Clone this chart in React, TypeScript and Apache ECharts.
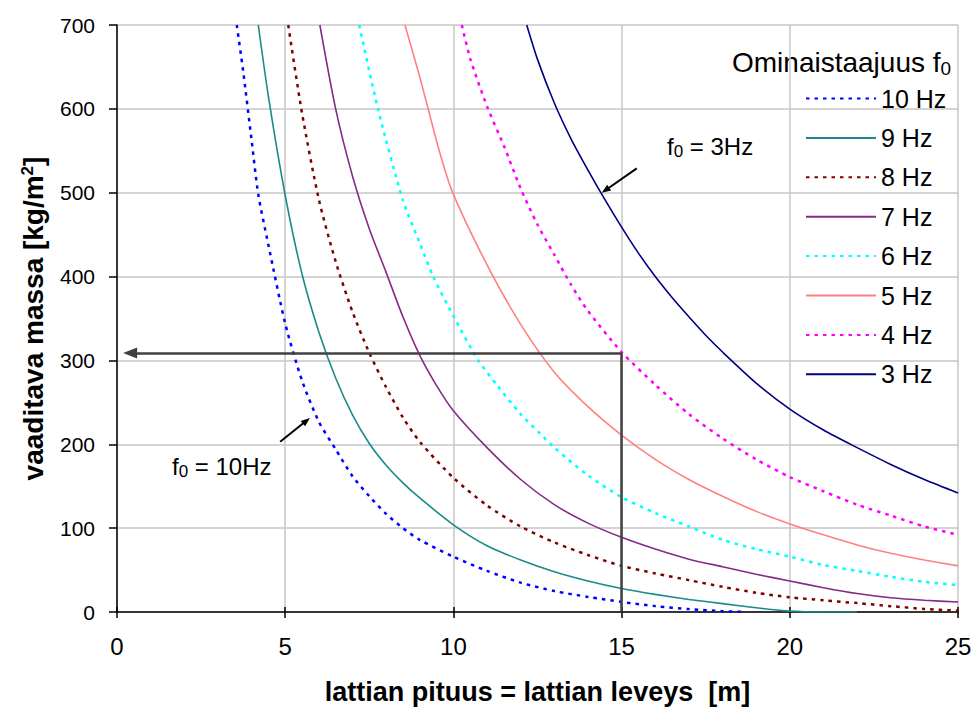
import React, { useEffect, useRef } from "react";
import * as echarts from "echarts";

// x: lattian pituus [m], y: vaaditava massa [kg/m2]
const xTicks = { min: 0, max: 25, interval: 5 };
const yTicks = { min: 0, max: 700, interval: 100 };

const seriesNames = ["10 Hz", "9 Hz", "8 Hz", "7 Hz", "6 Hz", "5 Hz", "4 Hz", "3 Hz"];

const hz10 = [[3.56,700],[3.75,645],[4,563],[4.2,498],[4.5,438],[5,344],[5.5,276],[6,227],[6.5,194],[7,162],[7.5,138],[8,117],[8.5,100],[9,86],[10,66],[11,49],[12,35],[13,25],[14,18],[15,12],[16,7],[17,3.5],[18,1],[18.7,0]];
const hz9 = [[4.2,700],[4.5,615],[5,497],[5.5,403],[6,334],[6.5,279],[7,235],[7.5,201],[8,175],[8.5,154],[9,136],[10,104],[11,79],[12,62],[13,48],[14,37],[15,28],[16,21],[17,15],[18,10],[19,5],[20,1],[21,0],[22,0]];
const hz8 = [[5.09,700],[5.5,595],[6,492],[6.5,418],[7,358],[7.5,309],[8,268],[8.5,232],[9,203],[10,160],[11,127],[12,102],[13,83],[14,68],[15,55],[16,46],[17,38],[18,30],[19,23],[20,17.5],[21,14],[22,10.6],[23,7],[24,3.6],[25,1.6]];
const hz7 = [[6.03,700],[6.5,600],[7,520],[7.5,457],[8,405],[8.5,352],[9,306],[9.5,270],[10,240],[11,196],[12,158],[13,128],[14,106],[15,89],[16,75],[17,63],[18,54],[19,45],[20,37],[21,29],[22,22],[23,17],[24,14],[25,12]];
const hz6 = [[7.2,700],[7.77,598],[8.5,491],[9,440],[9.4,400],[10,353],[10.74,300],[11.29,271],[12,236],[12.57,213],[13,196],[14,163],[15,137],[16,118],[17,102],[18,86],[19,75],[20,66],[21,56],[22,49],[23,42],[24,36],[25,32]];
const hz5 = [[8.56,700],[9,638],[9.6,547],[10,498],[11,414],[12,343],[13,286],[14,245],[15,211],[16,182],[17,158],[18,138],[19,120],[20,105],[21,92],[22,80],[23,70],[24,62],[25,55]];
const hz4 = [[10.25,700],[10.5,660],[11,603],[11.5,556],[12,505],[12.5,462],[13,426],[13.5,390],[14,359],[15,310],[16,271],[17,236],[18,207],[19,182],[20,161],[21,144],[22,128],[23,115],[24,102],[25,92]];
const hz3 = [[12.18,700],[12.5,659],[13,607],[13.5,564],[14,527],[14.5,492],[15,459],[15.5,428],[16,400],[16.5,375],[17,352],[17.5,330],[18,310],[19,273],[20,242],[21,217],[22,196],[23,176],[24,158],[25,142]];

// example reading: 15 m floor -> ~309 kg/m2
const guidePoint = [15, 309];
const guideEnd = [0.39, 309];
const arrow10 = [[4.85, 203], [5.63, 228]];
const arrow3 = [[15.45, 529], [14.52, 503]];

const FONT = "'Liberation Sans', Arial, Helvetica, sans-serif";

export default function App() {
  const ref = useRef<HTMLDivElement>(null);
  useEffect(() => {
    if (!ref.current) return;
    const chart = echarts.init(ref.current, null, { renderer: "svg" });

    const styles: Record<string, { color: string; dotted: boolean; width: number }> = {
      "10 Hz": { color: "#0000FF", dotted: true, width: 2.5 },
      "9 Hz": { color: "#1a8a8a", dotted: false, width: 1.6 },
      "8 Hz": { color: "#800000", dotted: true, width: 2.5 },
      "7 Hz": { color: "#862a86", dotted: false, width: 1.6 },
      "6 Hz": { color: "#00FFFF", dotted: true, width: 2.5 },
      "5 Hz": { color: "#FF8080", dotted: false, width: 1.6 },
      "4 Hz": { color: "#FF00FF", dotted: true, width: 2.5 },
      "3 Hz": { color: "#000080", dotted: false, width: 1.6 },
    };
    const dataMap: Record<string, number[][]> = {
      "10 Hz": hz10, "9 Hz": hz9, "8 Hz": hz8, "7 Hz": hz7,
      "6 Hz": hz6, "5 Hz": hz5, "4 Hz": hz4, "3 Hz": hz3,
    };

    const curveSeries = seriesNames.map((name) => {
      const s = styles[name];
      return {
        name,
        type: "line",
        data: dataMap[name],
        smooth: 0.25,
        symbol: "none",
        clip: true,
        z: 3,
        lineStyle: { color: s.color, width: s.width, type: s.dotted ? [3.5, 5] : "solid", cap: "butt" },
        itemStyle: { color: s.color },
      };
    });

    const guideStyle = { color: "#404040", width: 2.5, type: "solid" };
    const smallStyle = { color: "#000", width: 2, type: "solid" };

    const annotationSeries = {
      name: "annotations",
      type: "line",
      data: [guidePoint],
      symbol: "none",
      lineStyle: { opacity: 0 },
      z: 5,
      markLine: {
        silent: true,
        animation: false,
        label: { show: false },
        symbol: ["none", "none"],
        data: [
          [
            { coord: guidePoint, symbol: "none", lineStyle: guideStyle },
            { coord: guideEnd, symbol: "triangle", symbolSize: [11, 14], itemStyle: { color: "#404040" } },
          ],
          [
            { coord: guidePoint, symbol: "none", lineStyle: guideStyle },
            { coord: [guidePoint[0], 0], symbol: "none" },
          ],
          [
            { coord: arrow10[0], symbol: "none", lineStyle: smallStyle },
            { coord: arrow10[1], symbol: "triangle", symbolSize: [7, 9], itemStyle: { color: "#000" } },
          ],
          [
            { coord: arrow3[0], symbol: "none", lineStyle: smallStyle },
            { coord: arrow3[1], symbol: "triangle", symbolSize: [7, 9], itemStyle: { color: "#000" } },
          ],
        ],
      },
    };

    const gridLine = { show: true, lineStyle: { color: "#c6c6c6", width: 1.5 } };

    const subRich = (size: number) => ({
      sub: { fontSize: size, fontFamily: FONT, fill: "#000", verticalAlign: "bottom", lineHeight: 10 },
    });

    const option: any = {
      animation: false,
      backgroundColor: "#ffffff",
      textStyle: { fontFamily: FONT },
      grid: { left: 117, right: 17, top: 25, bottom: 101, containLabel: false },
      xAxis: [
        {
          type: "value",
          ...xTicks,
          position: "bottom",
          axisLine: { show: true, onZero: false, lineStyle: { color: "#000", width: 1.5 } },
          axisTick: { show: true, length: 6, lineStyle: { color: "#000", width: 1.5 } },
          axisLabel: { fontSize: 24, color: "#000", margin: 22, fontFamily: FONT },
          splitLine: gridLine,
          name: "lattian pituus = lattian leveys  [m]",
          nameLocation: "middle",
          nameGap: 66,
          nameTextStyle: { fontSize: 27, fontWeight: "bold", color: "#000", fontFamily: FONT },
        },
        {
          type: "value",
          ...xTicks,
          position: "bottom",
          axisLine: { show: false },
          axisTick: { show: true, inside: true, length: 5, lineStyle: { color: "#000", width: 1.5 } },
          axisLabel: { show: false },
          splitLine: { show: false },
        },
      ],
      yAxis: {
        type: "value",
        ...yTicks,
        axisLine: { show: true, onZero: false, lineStyle: { color: "#000", width: 1.5 } },
        axisTick: { show: true, length: 8, lineStyle: { color: "#000", width: 1.5 } },
        axisLabel: { fontSize: 21, color: "#000", margin: 22, fontFamily: FONT },
        splitLine: gridLine,
        name: "vaaditava massa [kg/m{sup|2}]",
        nameLocation: "middle",
        nameGap: 70,
        nameRotate: 90,
        nameTextStyle: {
          fontSize: 28,
          fontWeight: "bold",
          color: "#000",
          fontFamily: FONT,
          rich: { sup: { fontSize: 17, fontWeight: "bold", color: "#000", fontFamily: FONT, verticalAlign: "top", lineHeight: 12 } },
        },
      },
      legend: {
        orient: "vertical",
        left: 805,
        top: 86,
        padding: 0,
        itemWidth: 70,
        itemHeight: 4,
        itemGap: 14.4,
        selectedMode: false,
        data: seriesNames,
        itemStyle: { opacity: 0 },
        textStyle: { fontSize: 25, color: "#000", fontFamily: FONT, lineHeight: 22 },
      },
      graphic: [
        {
          type: "text",
          x: 732,
          y: 62,
          style: {
            text: "Ominaistaajuus f{sub|0}",
            fill: "#000",
            fontSize: 28,
            fontFamily: FONT,
            lineHeight: 32,
            verticalAlign: "middle",
            rich: subRich(19),
          },
        },
        {
          type: "text",
          x: 172,
          y: 466,
          style: {
            text: "f{sub|0} = 10Hz",
            fill: "#000",
            fontSize: 24,
            fontFamily: FONT,
            lineHeight: 28,
            verticalAlign: "middle",
            rich: subRich(17),
          },
        },
        {
          type: "text",
          x: 667,
          y: 146,
          style: {
            text: "f{sub|0} = 3Hz",
            fill: "#000",
            fontSize: 24,
            fontFamily: FONT,
            lineHeight: 28,
            verticalAlign: "middle",
            rich: subRich(17),
          },
        },
      ],
      series: [...curveSeries, annotationSeries],
    };

    chart.setOption(option);
    return () => chart.dispose();
  }, []);

  return (
    <div
      ref={ref}
      style={{ position: "fixed", left: 0, top: 0, width: 975, height: 713, background: "#fff" }}
    />
  );
}
